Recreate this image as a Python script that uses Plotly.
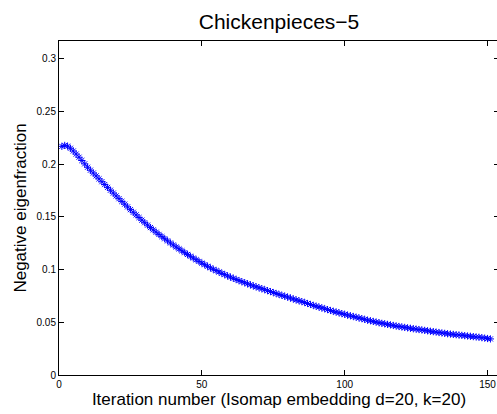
import plotly.graph_objects as go

# Iteration numbers and negative eigenfraction values
iterations = list(range(1, 152))
neg_eigenfraction = [
    0.2168, 0.2177, 0.2170, 0.2150, 0.2124, 0.2095, 0.2065, 0.2034, 0.2002, 0.1970,
    0.1942, 0.1915, 0.1888, 0.1860, 0.1833, 0.1806, 0.1779, 0.1752, 0.1725, 0.1698,
    0.1672, 0.1646, 0.1620, 0.1594, 0.1568, 0.1543, 0.1518, 0.1493, 0.1468, 0.1444,
    0.1421, 0.1398, 0.1376, 0.1354, 0.1333, 0.1312, 0.1292, 0.1272, 0.1252, 0.1233,
    0.1214, 0.1196, 0.1178, 0.1160, 0.1143, 0.1126, 0.1109, 0.1093, 0.1077, 0.1061,
    0.1046, 0.1031, 0.1016, 0.1002, 0.0990, 0.0977, 0.0964, 0.0952, 0.0940, 0.0928,
    0.0917, 0.0906, 0.0895, 0.0885, 0.0875, 0.0865, 0.0855, 0.0845, 0.0836, 0.0827,
    0.0818, 0.0809, 0.0800, 0.0791, 0.0782, 0.0773, 0.0764, 0.0755, 0.0747, 0.0739,
    0.0730, 0.0721, 0.0712, 0.0704, 0.0696, 0.0687, 0.0678, 0.0669, 0.0660, 0.0652,
    0.0644, 0.0636, 0.0628, 0.0620, 0.0612, 0.0604, 0.0597, 0.0590, 0.0582, 0.0575,
    0.0568, 0.0561, 0.0555, 0.0548, 0.0541, 0.0534, 0.0527, 0.0520, 0.0514, 0.0508,
    0.0502, 0.0496, 0.0490, 0.0485, 0.0480, 0.0475, 0.0470, 0.0465, 0.0460, 0.0455,
    0.0451, 0.0447, 0.0443, 0.0439, 0.0435, 0.0431, 0.0427, 0.0423, 0.0419, 0.0415,
    0.0411, 0.0407, 0.0403, 0.0399, 0.0395, 0.0391, 0.0388, 0.0385, 0.0382, 0.0379,
    0.0376, 0.0373, 0.0370, 0.0367, 0.0364, 0.0361, 0.0358, 0.0354, 0.0350, 0.0346,
    0.0342,
]

x_ticks = [0, 50, 100, 150]
y_ticks = [0, 0.05, 0.1, 0.15, 0.2, 0.25, 0.3]
y_tick_text = ["0", "0.05", "0.1", "0.15", "0.2", "0.25", "0.3"]

FONT = "Liberation Sans, Arial, Helvetica, sans-serif"

fig = go.Figure()
fig.add_trace(go.Scatter(
    x=iterations, y=neg_eigenfraction, mode="markers",
    marker=dict(symbol="asterisk-open", size=6, color="#0000ff",
                line=dict(color="#0000ff", width=1)),
    showlegend=False, hoverinfo="x+y",
))

axis_common = dict(
    showgrid=False, zeroline=False, showline=True, linecolor="#000000", linewidth=1,
    mirror="allticks", ticks="inside", ticklen=5, tickcolor="#000000", tickwidth=1,
    tickfont=dict(family=FONT, size=10, color="#000000"),
)

# The figure is slightly wider than the window so the right frame edge falls
# just outside the visible page, as in the reference.
fig.update_layout(
    width=499, height=414,
    margin=dict(l=59, r=0, t=41, b=39, pad=0),
    paper_bgcolor="#ffffff", plot_bgcolor="#ffffff",
    title=dict(text="Chickenpieces\u22125", x=0.5, xanchor="center", xref="paper",
               y=0.947, yanchor="middle", yref="container",
               font=dict(family=FONT, size=21, color="#000000")),
    xaxis=dict(range=[0, 154], tickvals=x_ticks, ticktext=[str(t) for t in x_ticks],
               title=dict(text="Iteration number (Isomap embedding d=20, k=20)",
                          font=dict(family=FONT, size=17, color="#000000"), standoff=1),
               **axis_common),
    yaxis=dict(range=[0, 0.3167], tickvals=y_ticks, ticktext=y_tick_text,
               title=dict(text="Negative eigenfraction",
                          font=dict(family=FONT, size=17, color="#000000"), standoff=5),
               **axis_common),
)

fig.write_html(
    "out.html",
    config={"displayModeBar": False},
    post_script="document.body.style.margin='0px';document.body.style.overflow='hidden';",
)
